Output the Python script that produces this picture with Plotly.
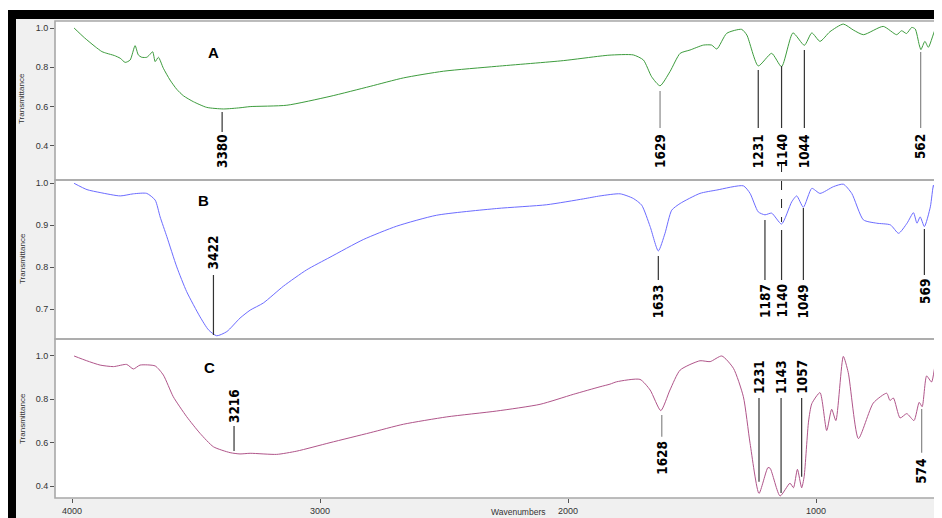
import plotly.graph_objects as go

# ---------------- data ----------------
wn_A = [3992, 3950, 3907, 3880, 3860, 3830, 3806, 3786, 3766, 3746, 3733, 3719, 3699, 3688,
        3675, 3665, 3652, 3632, 3605, 3578, 3551, 3511, 3457, 3390, 3323, 3282, 3134, 2960,
        2798, 2664, 2503, 2288, 2019, 1871, 1831, 1737, 1696, 1663, 1629, 1589, 1548, 1508,
        1454, 1421, 1400, 1360, 1300, 1279, 1233, 1179, 1139, 1093, 1047, 1017, 984, 944,
        890, 850, 809, 729, 675, 655, 635, 614, 600, 584, 577, 561, 547, 513, 492]
tr_A = [1.000, 0.950, 0.905, 0.880, 0.871, 0.860, 0.846, 0.825, 0.837, 0.910, 0.863, 0.851, 0.851, 0.863,
        0.879, 0.829, 0.851, 0.795, 0.735, 0.688, 0.655, 0.625, 0.596, 0.588, 0.594, 0.600, 0.607, 0.652,
        0.703, 0.746, 0.780, 0.805, 0.834, 0.857, 0.862, 0.863, 0.837, 0.752, 0.706, 0.778, 0.871, 0.888,
        0.913, 0.913, 0.893, 0.973, 0.993, 0.964, 0.807, 0.871, 0.803, 0.975, 0.912, 0.975, 0.932, 0.981,
        1.020, 0.990, 0.966, 1.008, 0.966, 0.986, 0.972, 1.003, 0.995, 0.915, 0.890, 0.932, 0.902, 1.008, 0.975]

wn_B = [3992, 3940, 3887, 3806, 3753, 3699, 3665, 3645, 3618, 3578, 3538, 3484, 3450, 3417,
        3376, 3323, 3282, 3229, 3148, 3054, 2960, 2826, 2691, 2530, 2288, 2086, 1938, 1871,
        1790, 1737, 1703, 1669, 1636, 1609, 1582, 1548, 1468, 1400, 1293, 1266, 1233, 1206,
        1179, 1139, 1098, 1078, 1051, 1017, 984, 930, 890, 856, 809, 755, 700, 667, 633, 607,
        593, 580, 563, 539, 526, 515, 501, 492]
tr_B = [1.000, 0.985, 0.978, 0.970, 0.975, 0.976, 0.960, 0.920, 0.873, 0.801, 0.742, 0.682, 0.651, 0.637,
        0.647, 0.679, 0.698, 0.715, 0.755, 0.794, 0.824, 0.866, 0.898, 0.924, 0.940, 0.949, 0.963, 0.970,
        0.975, 0.964, 0.948, 0.897, 0.839, 0.881, 0.936, 0.952, 0.976, 0.984, 0.994, 0.976, 0.932, 0.925,
        0.929, 0.903, 0.956, 0.970, 0.943, 0.988, 0.976, 0.992, 0.998, 0.976, 0.913, 0.905, 0.901, 0.881, 0.905, 0.930,
        0.905, 0.920, 0.897, 0.944, 0.996, 0.968, 0.998, 1.000]

wn_C = [3992, 3941, 3887, 3833, 3780, 3753, 3726, 3665, 3632, 3592, 3538, 3484, 3430, 3363,
        3323, 3282, 3175, 3094, 2960, 2798, 2664, 2489, 2288, 2113, 1979, 1871, 1831, 1804,
        1710, 1669, 1626, 1589, 1548, 1468, 1427, 1380, 1333, 1293, 1266, 1230, 1194, 1185,
        1145, 1105, 1091, 1075, 1058, 1048, 1030, 1017, 984, 957, 937, 920, 890, 870, 829,
        769, 715, 702, 688, 661, 634, 605, 584, 572, 554, 534, 513, 492]
tr_C = [1.000, 0.978, 0.958, 0.951, 0.961, 0.940, 0.958, 0.954, 0.912, 0.812, 0.720, 0.643, 0.581, 0.554,
        0.548, 0.551, 0.546, 0.561, 0.600, 0.646, 0.685, 0.719, 0.746, 0.777, 0.823, 0.858, 0.870, 0.881,
        0.892, 0.843, 0.748, 0.843, 0.935, 0.978, 0.974, 1.000, 0.943, 0.812, 0.597, 0.366, 0.485, 0.482,
        0.354, 0.413, 0.392, 0.477, 0.392, 0.443, 0.700, 0.780, 0.831, 0.656, 0.754, 0.702, 0.998, 0.923, 0.619,
        0.783, 0.828, 0.795, 0.806, 0.714, 0.734, 0.702, 0.786, 0.766, 0.908, 0.880, 0.992, 0.935]

# peak labels: text, marker position (as drawn), line top, line bottom
peaks_A_text = ["3380", "1629", "1231", "1140", "1044", "562"]
peaks_A_pos = [3395, 1629, 1233, 1139, 1047, 578]
peaks_A_top = [0.5725, 0.679, 0.786, 0.807, 0.888, 0.878]
peaks_A_bot = [0.4707, 0.491, 0.491, 0.491, 0.491, 0.491]

peaks_B_text = ["3422", "1633", "1187", "1140", "1049", "569"]
peaks_B_pos = [3430, 1636, 1206, 1139, 1051, 563]
peaks_B_top = [0.7817, 0.8269, 0.9126, 0.8888, 0.9412, 0.8912]
peaks_B_bot = [0.6388, 0.7698, 0.7698, 0.7698, 0.7698, 0.7817]

peaks_C_text = ["3216", "1628", "1231", "1143", "1057", "574"]
peaks_C_pos = [3347, 1622, 1230, 1141, 1058, 574]
peaks_C_top = [0.677, 0.7277, 0.8062, 0.8062, 0.8062, 0.7554]
peaks_C_bot = [0.5616, 0.6276, 0.420, 0.3678, 0.443, 0.5538]

# ---------------- layout helpers ----------------
OFF = 8                       # page body margin
W, H = 942 - OFF, 518 - OFF
L, R, T, B = 55 - OFF, 0, 21 - OFF, 20
PW, PH = W - L - R, H - T - B


def px(x):                    # x in screenshot pixels -> paper
    return (x - OFF - L) / PW


def py(y):                    # y in screenshot pixels -> paper
    return (H - B - (y - OFF)) / PH


fig = go.Figure()
fig.add_trace(go.Scatter(x=wn_A, y=tr_A, mode="lines", xaxis="x", yaxis="y",
                         line=dict(color="#3d9c3d", width=1.0, shape="spline", smoothing=0.6),
                         showlegend=False, hoverinfo="skip"))
fig.add_trace(go.Scatter(x=wn_B, y=tr_B, mode="lines", xaxis="x", yaxis="y2",
                         line=dict(color="#6c6cff", width=1.0, shape="spline", smoothing=0.6),
                         showlegend=False, hoverinfo="skip"))
fig.add_trace(go.Scatter(x=wn_C, y=tr_C, mode="lines", xaxis="x", yaxis="y3",
                         line=dict(color="#b0558a", width=1.0, shape="spline", smoothing=0.6),
                         showlegend=False, hoverinfo="skip"))

tickfont = dict(family="Liberation Sans, Arial, sans-serif", size=9, color="#333")
yax_common = dict(showgrid=False, zeroline=False, ticks="outside", ticklen=4, tickcolor="#555",
                  tickfont=tickfont, tickformat=".1f", showline=False, fixedrange=True)

fig.update_layout(
    width=W, height=H,
    margin=dict(l=L, r=R, t=T, b=B, pad=0),
    paper_bgcolor="#f0f0f0", plot_bgcolor="white",
    xaxis=dict(domain=[0, 1], anchor="y3", range=[4069, 492], showgrid=False, zeroline=False,
               tickvals=[4000, 3000, 2000, 1000], ticks="outside", ticklen=4, tickcolor="#555",
               tickfont=tickfont, showline=False),
    yaxis=dict(domain=[2 / 3, 1], anchor="x", range=[0.2265, 1.0356],
               tickvals=[0.4, 0.6, 0.8, 1.0], **yax_common),
    yaxis2=dict(domain=[1 / 3, 2 / 3], anchor="x", range=[0.6293, 1.0079],
                tickvals=[0.7, 0.8, 0.9, 1.0], **yax_common),
    yaxis3=dict(domain=[0, 1 / 3], anchor="x", range=[0.3447, 1.0784],
                tickvals=[0.4, 0.6, 0.8, 1.0], **yax_common),
)

shapes = []
# frame decoration outside plot
shapes.append(dict(type="rect", xref="paper", yref="paper", x0=px(0), x1=px(942), y0=py(10), y1=py(0),
                   fillcolor="white", line=dict(width=0), layer="above"))
shapes.append(dict(type="rect", xref="paper", yref="paper", x0=px(8), x1=px(16), y0=py(530), y1=py(10),
                   fillcolor="black", line=dict(width=0), layer="above"))
shapes.append(dict(type="rect", xref="paper", yref="paper", x0=px(8), x1=px(942), y0=py(19), y1=py(10),
                   fillcolor="black", line=dict(width=0), layer="above"))
# panel borders
for d0, d1 in [(2 / 3, 1), (1 / 3, 2 / 3), (0, 1 / 3)]:
    shapes.append(dict(type="rect", xref="paper", yref="paper", x0=0, x1=1, y0=d0, y1=d1,
                       line=dict(color="#a8a8a8", width=1.6), layer="above"))

annotations = []
label_font = dict(family="DejaVu Sans Condensed, Liberation Sans Narrow, Arial Narrow, sans-serif",
                  size=13.5, color="black", weight="bold")


def add_peaks(texts, pos, tops, bots, yref, text_side, text_y, gray):
    for i, (t, p, a, b) in enumerate(zip(texts, pos, tops, bots)):
        col = "#888" if t in gray else "#333"
        shapes.append(dict(type="line", xref="x", yref=yref, x0=p, x1=p, y0=a, y1=b,
                           line=dict(color=col, width=1.2)))
        side = text_side[i]
        annotations.append(dict(x=p, y=text_y[i], xref="x", yref=yref, text=t, textangle=-90,
                                showarrow=False, xanchor="center",
                                yanchor="top" if side == "below" else "bottom",
                                font=label_font, borderpad=0))


add_peaks(peaks_A_text, peaks_A_pos, peaks_A_top, peaks_A_bot, "y",
          ["below"] * 6, [0.466] * 6, {"562", "1629"})
add_peaks(peaks_B_text, peaks_B_pos, peaks_B_top, peaks_B_bot, "y2",
          ["above", "below", "below", "below", "below", "below"],
          [0.7936, 0.7626, 0.7626, 0.7626, 0.7626, 0.7745], set())
add_peaks(peaks_C_text, peaks_C_pos, peaks_C_top, peaks_C_bot, "y3",
          ["above", "below", "above", "above", "above", "below"],
          [0.6862, 0.6124, 0.82, 0.82, 0.82, 0.5307], {"574", "1628"})

# dashed connector for the shared 1140 band
shapes.append(dict(type="line", xref="x", yref="paper", x0=1139, x1=1139, y0=py(163), y1=py(222),
                   line=dict(color="#222", width=1, dash="dash")))

# panel letters
letter_font = dict(family="Liberation Sans, Arial, sans-serif", size=15, color="black", weight="bold")
for txt, xw, yv, yr in [("A", 3431, 0.873, "y"), ("B", 3472, 0.9586, "y2"), ("C", 3444, 0.946, "y3")]:
    annotations.append(dict(x=xw, y=yv, xref="x", yref=yr, text=txt, showarrow=False,
                            font=letter_font, xanchor="center", yanchor="middle"))

# axis titles
small_font = dict(family="Liberation Sans Narrow, Liberation Sans, Arial, sans-serif", size=8, color="#333")
for ymid in [99, 259, 419]:
    annotations.append(dict(x=px(22), y=py(ymid), xref="paper", yref="paper", text="Transmittance",
                            textangle=-90, showarrow=False, font=small_font,
                            xanchor="center", yanchor="middle"))
annotations.append(dict(x=px(518), y=py(518), xref="paper", yref="paper", text="Wavenumbers",
                        showarrow=False, font=dict(family="Liberation Sans, Arial, sans-serif", size=8.5, color="#333"),
                        xanchor="center", yanchor="bottom", borderpad=0))

fig.update_layout(shapes=shapes, annotations=annotations)
fig.write_html("out.html")
